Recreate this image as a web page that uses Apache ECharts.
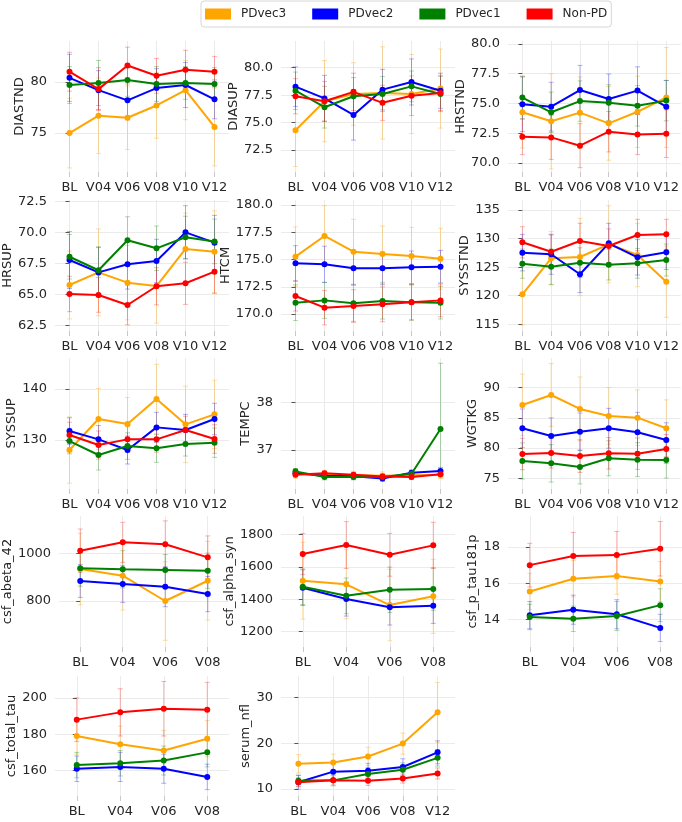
<!DOCTYPE html>
<html>
<head>
<meta charset="utf-8">
<script src="https://cdn.jsdelivr.net/npm/echarts@6/dist/echarts.min.js"></script>
<style>
html,body{margin:0;padding:0;background:#fff;}
#chart{width:682px;height:822px;}
</style>
</head>
<body>
<div id="chart"></div>
<script>
// ---------- DATA ----------
const GROUPS = ['PDvec3', 'PDvec2', 'PDvec1', 'Non-PD'];
const VISITS6 = ['BL', 'V04', 'V06', 'V08', 'V10', 'V12'];
const VISITS4 = ['BL', 'V04', 'V06', 'V08'];
const VISITS5 = ['BL', 'V04', 'V06', 'V08', 'V12'];

// order of rows in each *_mean / *_err: PDvec3, PDvec2, PDvec1, Non-PD
const DIASTND_mean = [[75.0,76.7,76.5,77.7,79.2,75.6],[80.4,79.2,78.2,79.4,79.7,78.3],[79.7,79.9,80.2,79.8,79.9,79.8],[81.0,79.3,81.6,80.6,81.2,81.0]];
const DIASTND_err  = [[3.4,3.7,3.1,3.2,2.9,3.8],[2.3,1.9,1.9,1.9,2.2,1.9],[1.8,2.2,1.6,1.7,1.6,1.6],[1.9,2.1,1.8,1.7,1.9,1.5]];
const DIASTND_ticks = [75, 80];

const DIASUP_mean = [[74.3,76.95,77.6,77.7,77.6,78.1],[78.27,77.2,75.7,78.0,78.7,77.9],[77.9,76.4,77.4,77.6,78.3,77.6],[77.4,76.95,77.8,76.8,77.45,77.7]];
const DIASUP_err  = [[3.3,3.7,2.85,4.2,3.6,3.6],[1.8,2.1,2.3,1.85,2.1,1.6],[1.7,1.9,1.7,1.6,1.4,1.6],[1.6,1.8,1.7,1.6,1.8,1.6]];
const DIASUP_ticks = [72.5, 75, 77.5, 80];

const HRSTND_mean = [[74.26,73.5,74.23,73.33,74.3,75.5],[74.93,74.73,76.13,75.38,76.08,74.73],[75.5,74.26,75.2,75.07,74.8,75.24],[72.2,72.15,71.45,72.63,72.4,72.46]];
const HRSTND_err  = [[3.0,4.0,3.0,3.1,3.0,4.2],[2.3,2.05,2.07,2.1,2.0,2.2],[1.8,1.7,1.7,1.5,1.7,1.7],[1.5,1.85,1.85,1.7,1.7,2.0]];
const HRSTND_ticks = [70, 72.5, 75, 77.5, 80];

const HRSUP_mean = [[65.78,66.8,65.97,65.7,68.69,68.47],[67.8,66.8,67.45,67.72,70.03,69.2],[68.06,66.97,69.39,68.74,69.63,69.3],[65.06,64.98,64.17,65.68,65.92,66.86]];
const HRSUP_err  = [[2.74,3.5,3.0,3.0,2.9,3.3],[2.3,2.0,2.0,1.75,2.15,2.2],[1.8,1.9,1.9,1.8,1.7,1.8],[1.43,1.4,1.6,1.5,1.7,1.76]];
const HRSUP_ticks = [62.5, 65, 67.5, 70, 72.5];

const HTCM_mean = [[175.26,177.16,175.72,175.5,175.32,175.07],[174.65,174.56,174.19,174.19,174.28,174.34],[171.04,171.25,170.98,171.19,171.07,171.04],[171.65,170.58,170.73,170.89,171.07,171.25]];
const HTCM_err  = [[2.74,2.78,2.97,2.57,2.63,2.8],[1.62,1.66,1.5,1.5,1.5,1.5],[1.64,1.65,1.65,1.65,1.65,1.5],[1.38,1.58,1.5,1.6,1.6,1.5]];
const HTCM_ticks = [170, 172.5, 175, 177.5, 180];

const SYSSTND_mean = [[120.25,126.55,126.78,129.0,127.13,122.46],[127.54,127.25,123.75,129.17,126.72,127.6],[125.61,125.08,125.79,125.43,125.67,126.25],[129.35,127.7,129.58,128.7,130.63,130.74]];
const SYSSTND_err  = [[5.37,4.67,6.77,6.75,5.55,6.23],[3.2,3.5,3.2,3.5,3.1,3.0],[2.56,3.1,2.6,2.67,2.6,2.8],[2.73,2.93,3.1,3.0,2.74,2.63]];
const SYSSTND_ticks = [115, 120, 125, 130, 135];

const SYSSUP_mean = [[128.04,134.12,133.14,138.04,133.07,135.03],[131.76,130.13,128.04,132.48,131.96,134.12],[129.8,127.06,128.82,128.37,129.22,129.47],[130.98,129.02,130.13,130.13,131.96,130.2]];
const SYSSUP_err  = [[6.5,6.0,5.2,6.8,7.5,6.7],[2.6,2.7,2.74,2.95,3.07,3.08],[2.5,2.94,2.6,2.74,2.36,2.87],[2.5,2.75,2.5,2.5,2.7,2.8]];
const SYSSUP_ticks = [130, 140];

const TEMPC_mean = [[36.5,36.48,36.47,36.46,36.47,36.48],[36.51,36.46,36.45,36.4,36.52,36.56],[36.55,36.43,36.43,36.43,36.5,37.44],[36.48,36.51,36.48,36.44,36.43,36.49]];
const TEMPC_err  = [[0.1,0.08,0.08,0.08,0.08,0.08],[0.06,0.06,0.06,0.06,0.06,0.07],[0.06,0.06,0.06,0.06,0.06,[0.95,1.38]],[0.05,0.05,0.05,0.05,0.05,0.05]];
const TEMPC_ticks = [37, 38];

const WGTKG_mean = [[87.14,88.79,86.48,85.32,85.04,83.28],[83.28,82.0,82.72,83.28,82.62,81.34],[77.87,77.48,76.87,78.31,78.09,78.04],[79.02,79.2,78.68,79.13,79.08,79.85]];
const WGTKG_err  = [[5.1,5.2,5.3,4.7,4.6,4.7],[3.2,3.0,3.1,3.3,3.3,2.85],[3.0,3.1,2.8,2.9,2.8,3.0],[2.6,2.5,2.7,2.6,2.6,2.4]];
const WGTKG_ticks = [75, 80, 85, 90];

const ABETA_mean = [[934,906,800,885],[884,871,860,829],[937,933,930,927],[1011,1046,1038,983]];
const ABETA_err  = [[150,144,165,165],[69,77,84,74],[75,78,65,74],[91,84,98,90]];
const ABETA_ticks = [800, 1000];

const ASYN_mean = [[1514,1492,1364,1418],[1471,1401,1350,1360],[1477,1421,1458,1463],[1679,1734,1674,1732]];
const ASYN_err  = [[237,213,220,228],[110,105,109,109],[110,110,140,131],[127,144,132,142]];
const ASYN_ticks = [1200, 1400, 1600, 1800];

const PTAU_mean = [[15.55,16.25,16.4,16.1],[14.25,14.55,14.3,13.55],[14.15,14.05,14.2,14.8],[17.0,17.5,17.55,17.9]];
const PTAU_err  = [[1.0,1.0,1.0,1.1],[0.75,0.8,0.8,0.75],[0.7,0.7,0.8,0.9],[1.2,1.3,1.3,1.5]];
const PTAU_ticks = [14, 16, 18];

const TTAU_mean = [[179,174.5,171,177.5],[161,162,161,156.5],[163,164,165.5,170],[188,192,194,193.5]];
const TTAU_err  = [[10,10,11,10],[7,8,8,7],[7,7,8,8],[12,13,15,15]];
const TTAU_ticks = [160, 180, 200];

const NFL_mean = [[15.5,15.8,17.1,19.9,26.7],[11.5,13.8,14.0,14.8,18.0],[11.8,11.9,13.3,14.2,16.8],[11.5,11.9,11.8,12.3,13.4]];
const NFL_err  = [[2.0,1.8,2.0,2.3,6.5],[1.5,1.8,1.6,1.8,2.5],[1.2,1.2,1.4,1.5,1.8],[1.0,1.0,1.0,1.0,1.2]];
const NFL_ticks = [10, 20, 30];

// ---------- PANEL CONFIG ----------
const panels = [
  {name:'DIASTND', cats:VISITS6, mean:DIASTND_mean, err:DIASTND_err, ticks:DIASTND_ticks, ylim:[71.2,84.0], dec:0},
  {name:'DIASUP', cats:VISITS6, mean:DIASUP_mean, err:DIASUP_err, ticks:DIASUP_ticks, ylim:[70.5,82.43], dec:1},
  {name:'HRSTND', cats:VISITS6, mean:HRSTND_mean, err:HRSTND_err, ticks:HRSTND_ticks, ylim:[69.24,80.25], dec:1},
  {name:'HRSUP', cats:VISITS6, mean:HRSUP_mean, err:HRSUP_err, ticks:HRSUP_ticks, ylim:[62.07,72.64], dec:1},
  {name:'HTCM', cats:VISITS6, mean:HTCM_mean, err:HTCM_err, ticks:HTCM_ticks, ylim:[168.44,180.46], dec:1},
  {name:'SYSSTND', cats:VISITS6, mean:SYSSTND_mean, err:SYSSTND_err, ticks:SYSSTND_ticks, ylim:[113.83,136.75], dec:0},
  {name:'SYSSUP', cats:VISITS6, mean:SYSSUP_mean, err:SYSSUP_err, ticks:SYSSUP_ticks, ylim:[120.4,146.08], dec:0},
  {name:'TEMPC', cats:VISITS6, mean:TEMPC_mean, err:TEMPC_err, ticks:TEMPC_ticks, ylim:[36.18,38.93], dec:0},
  {name:'WGTKG', cats:VISITS6, mean:WGTKG_mean, err:WGTKG_err, ticks:WGTKG_ticks, ylim:[73.23,94.91], dec:0},
  {name:'csf_abeta_42', cats:VISITS4, mean:ABETA_mean, err:ABETA_err, ticks:ABETA_ticks, ylim:[607,1156.5], dec:0},
  {name:'csf_alpha_syn', cats:VISITS4, mean:ASYN_mean, err:ASYN_err, ticks:ASYN_ticks, ylim:[1105.6,1913], dec:0},
  {name:'csf_p_tau181p', cats:VISITS4, mean:PTAU_mean, err:PTAU_err, ticks:PTAU_ticks, ylim:[12.5,19.7], dec:0},
  {name:'csf_total_tau', cats:VISITS4, mean:TTAU_mean, err:TTAU_err, ticks:TTAU_ticks, ylim:[146,212], dec:0},
  {name:'serum_nfl', cats:VISITS5, mean:NFL_mean, err:NFL_err, ticks:NFL_ticks, ylim:[8.5,34.6], dec:0}
];

// ---------- STYLE / LAYOUT ----------
const COLORS = ['#FFA500', '#0000FF', '#008000', '#FF0000'];
const ERR_COLORS = ['rgba(255,165,0,0.35)', 'rgba(0,0,255,0.3)', 'rgba(0,128,0,0.3)', 'rgba(255,0,0,0.3)'];
const FONT = 'DejaVu Sans';
const TXT = '#262626';
const COL_LEFT = [55, 281, 508];
const COL_W = 174;
const ROW_TOP = [41, 200, 358, 516, 676];
const ROW_H = [131, 131, 131, 131, 120];

const ctx = document.createElement('canvas').getContext('2d');
ctx.font = '13px "' + FONT + '"';

const grid = [], xAxis = [], yAxis = [], series = [];

panels.forEach((p, i) => {
  const col = i % 3, row = Math.floor(i / 3);
  grid.push({left: COL_LEFT[col], top: ROW_TOP[row], width: COL_W, height: ROW_H[row], containLabel: false});
  const n = p.cats.length;
  const idx = p.cats.map((_, k) => k);
  xAxis.push({
    type: 'value', gridIndex: i, min: -0.5, max: n - 0.5,
    axisLine: {show: false},
    axisTick: {show: true, length: 5, lineStyle: {color: '#c8c8c8', width: 1}, customValues: idx},
    axisLabel: {customValues: idx, formatter: v => p.cats[Math.round(v)], fontFamily: FONT, fontSize: 13, color: TXT, margin: 9},
    splitLine: {show: true, lineStyle: {color: '#ebebeb', width: 1}}
  });
  const fmt = v => v.toFixed(p.dec);
  const maxW = Math.max(...p.ticks.map(t => ctx.measureText(fmt(t)).width));
  yAxis.push({
    type: 'value', gridIndex: i, min: p.ylim[0], max: p.ylim[1],
    name: p.name, nameLocation: 'middle', nameRotate: 90, nameGap: maxW + 10,
    nameTextStyle: {fontFamily: FONT, fontSize: 13, color: TXT},
    axisLine: {show: false},
    axisTick: {show: true, length: 4, lineStyle: {color: '#555', width: 1}, customValues: p.ticks},
    axisLabel: {customValues: p.ticks, formatter: fmt, fontFamily: FONT, fontSize: 13, color: TXT, margin: 8},
    splitLine: {show: true, lineStyle: {color: '#ebebeb', width: 1}}
  });
  GROUPS.forEach((g, gi) => {
    const means = p.mean[gi], errs = p.err[gi];
    const ebData = means.map((m, k) => {
      const e = errs[k];
      const lo = Array.isArray(e) ? m - e[0] : m - e;
      const hi = Array.isArray(e) ? m + e[1] : m + e;
      return [k, lo, hi];
    });
    const ec = ERR_COLORS[gi];
    series.push({
      type: 'custom', name: g + ' CI', xAxisIndex: i, yAxisIndex: i, z: 1, silent: true,
      data: ebData, encode: {x: 0, y: [1, 2]}, clip: false,
      renderItem: (params, api) => {
        const x = api.value(0);
        const a = api.coord([x, api.value(1)]), b = api.coord([x, api.value(2)]);
        const c = 2.5, st = {stroke: ec, lineWidth: 1};
        return {type: 'group', children: [
          {type: 'line', shape: {x1: a[0], y1: a[1], x2: b[0], y2: b[1]}, style: st},
          {type: 'line', shape: {x1: a[0]-c, y1: a[1], x2: a[0]+c, y2: a[1]}, style: st},
          {type: 'line', shape: {x1: b[0]-c, y1: b[1], x2: b[0]+c, y2: b[1]}, style: st}
        ]};
      }
    });
    series.push({
      type: 'line', name: g, xAxisIndex: i, yAxisIndex: i, z: 2 + gi,
      data: means.map((m, k) => [k, m]),
      symbol: 'circle', symbolSize: 6, showSymbol: true,
      lineStyle: {color: COLORS[gi], width: 2},
      itemStyle: {color: COLORS[gi]},
      emphasis: {disabled: true}, animation: false
    });
  });
});

const chart = echarts.init(document.getElementById('chart'), null, {renderer: 'canvas'});
chart.setOption({
  animation: false,
  backgroundColor: '#ffffff',
  color: COLORS,
  legend: {
    data: GROUPS.map((g, gi) => ({name: g, icon: 'rect', itemStyle: {color: COLORS[gi]}})),
    left: 201, top: 1,
    padding: [7, 4, 7, 4],
    itemWidth: 26, itemHeight: 11, itemGap: 26,
    borderColor: '#d6d6d6', borderWidth: 1, borderRadius: 3,
    backgroundColor: '#fff',
    textStyle: {fontFamily: FONT, fontSize: 12, color: TXT, padding: [0, 0, 0, 5]},
    selectedMode: false
  },
  grid, xAxis, yAxis, series
});
</script>
</body>
</html>
